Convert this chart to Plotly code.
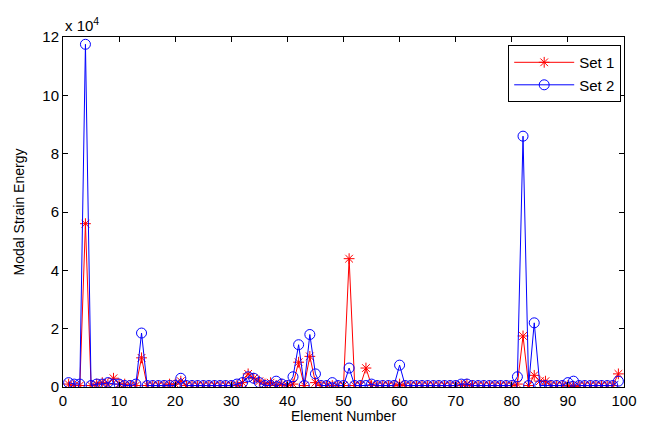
import plotly.graph_objects as go

elements = list(range(1, 100))

set1 = [0.10, 0.05, 0.05, 5.60, 0.05, 0.10, 0.15, 0.10, 0.30, 0.10,
        0.10, 0.05, 0.05, 1.00, 0.05, 0.05, 0.05, 0.05, 0.10, 0.10,
        0.20, 0.05, 0.05, 0.05, 0.05, 0.05, 0.05, 0.05, 0.05, 0.05,
        0.05, 0.15, 0.45, 0.30, 0.20, 0.10, 0.15, 0.05, 0.10, 0.05,
        0.10, 0.85, 0.05, 1.05, 0.15, 0.05, 0.05, 0.05, 0.05, 0.05,
        4.40, 0.05, 0.05, 0.65, 0.05, 0.05, 0.05, 0.05, 0.05, 0.10,
        0.05, 0.05, 0.05, 0.05, 0.05, 0.05, 0.05, 0.05, 0.05, 0.05,
        0.05, 0.10, 0.05, 0.05, 0.05, 0.05, 0.05, 0.05, 0.05, 0.05,
        0.10, 1.75, 0.05, 0.40, 0.20, 0.20, 0.05, 0.05, 0.05, 0.05,
        0.02, 0.05, 0.05, 0.05, 0.05, 0.05, 0.05, 0.05, 0.45]

set2 = [0.15, 0.10, 0.10, 11.75, 0.05, 0.10, 0.10, 0.15, 0.10, 0.10,
        0.05, 0.05, 0.10, 1.85, 0.05, 0.05, 0.05, 0.05, 0.05, 0.05,
        0.30, 0.05, 0.05, 0.05, 0.05, 0.05, 0.05, 0.05, 0.05, 0.05,
        0.10, 0.15, 0.35, 0.30, 0.15, 0.05, 0.05, 0.20, 0.10, 0.05,
        0.35, 1.45, 0.05, 1.80, 0.45, 0.05, 0.05, 0.15, 0.05, 0.05,
        0.65, 0.05, 0.05, 0.05, 0.10, 0.05, 0.05, 0.05, 0.05, 0.75,
        0.05, 0.05, 0.05, 0.05, 0.05, 0.05, 0.05, 0.05, 0.05, 0.05,
        0.10, 0.10, 0.05, 0.05, 0.05, 0.05, 0.05, 0.05, 0.05, 0.05,
        0.35, 8.60, 0.05, 2.20, 0.05, 0.05, 0.05, 0.05, 0.05, 0.15,
        0.20, 0.05, 0.05, 0.05, 0.05, 0.05, 0.05, 0.05, 0.20]

xticks = list(range(0, 101, 10))
yticks = list(range(0, 13, 2))

fig = go.Figure()
fig.add_trace(go.Scatter(
    x=elements, y=set1, name="Set 1", mode="lines+markers",
    line=dict(color="#ff0000", width=1),
    marker=dict(symbol="asterisk-open", size=9, color="#ff0000",
                line=dict(color="#ff0000", width=1)),
))
fig.add_trace(go.Scatter(
    x=elements, y=set2, name="Set 2", mode="lines+markers",
    line=dict(color="#0000ff", width=1),
    marker=dict(symbol="circle-open", size=10, color="#0000ff",
                line=dict(color="#0000ff", width=1)),
))

axis_common = dict(
    showline=True, linecolor="black", linewidth=1, mirror="ticks",
    ticks="inside", ticklen=5, tickcolor="black", showgrid=False,
    zeroline=False, tickfont=dict(size=15, color="black"),
)

fig.update_layout(
    width=649, height=436,
    margin=dict(l=63, r=16, t=37, b=49),
    paper_bgcolor="white", plot_bgcolor="white",
    font=dict(family="Liberation Sans, Arial, sans-serif", size=15, color="black"),
    xaxis=dict(range=[0, 100], tickvals=xticks, **axis_common),
    yaxis=dict(range=[0, 12], tickvals=yticks,
               title=dict(text="Modal Strain Energy", font=dict(size=14), standoff=14),
               **axis_common),
    legend=dict(x=0.995, y=0.977, xanchor="right", yanchor="top",
                bordercolor="black", borderwidth=1, bgcolor="white",
                font=dict(size=15), itemwidth=60, tracegroupgap=2),
    showlegend=True,
)

fig.add_annotation(
    text="Element Number", xref="paper", yref="paper", x=0.5, y=0,
    xanchor="center", yanchor="top", showarrow=False, yshift=-19,
    font=dict(size=14, color="black"),
)

fig.add_annotation(
    text="x 10<sup>4</sup>", xref="paper", yref="paper", x=0, y=1.0,
    xanchor="left", yanchor="bottom", showarrow=False, yshift=1,
    font=dict(size=15, color="black"),
)

fig.write_html("out.html")
